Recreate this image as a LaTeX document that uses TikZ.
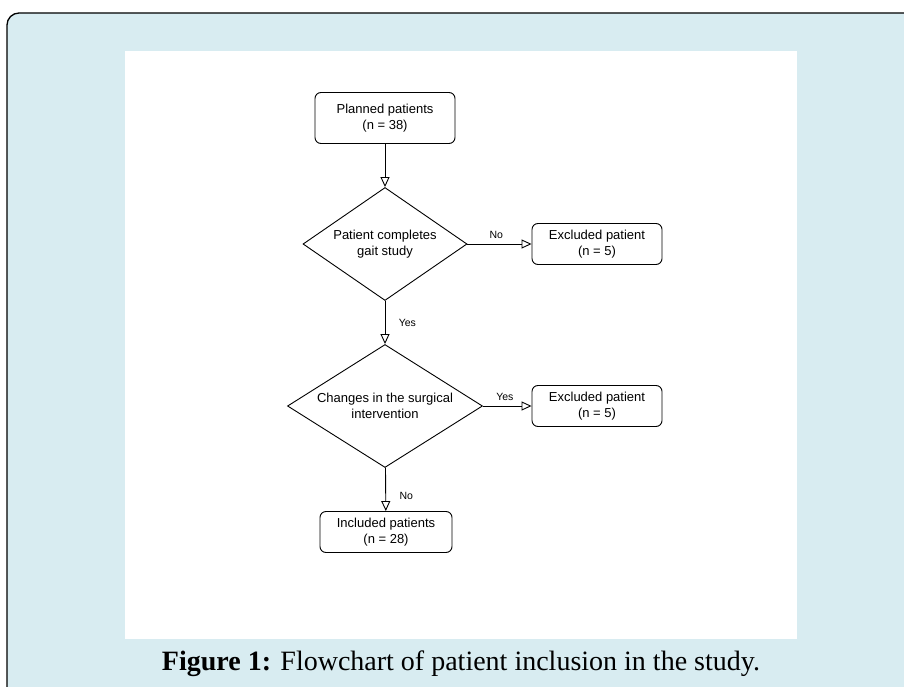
\documentclass[tikz,border=0pt]{standalone}
\usepackage{fontspec}
\setmainfont{Liberation Sans}
\newfontfamily\capfont{Liberation Serif}
\usetikzlibrary{arrows.meta,positioning,shapes.geometric}

\begin{document}
\begin{tikzpicture}[x=1pt,y=-1pt]
    % Define colors
    \definecolor{panelblue}{RGB}{216,236,241}

    % Define styles
    \tikzset{
        stepbox/.style={rectangle, rounded corners=6pt, draw, line width=0.9pt,
            minimum width=#1, minimum height=41pt, inner sep=0pt, align=center,
            font=\fontsize{13}{15.5}\selectfont},
        stepbox/.default=130pt,
        decision/.style={diamond, draw, line width=0.9pt, inner sep=0pt, align=center,
            font=\fontsize{13}{15.5}\selectfont},
        flow/.style={line width=0.9pt, -{Triangle[open, length=10pt, width=9pt]}},
        answer/.style={font=\fontsize{10.5}{12}\selectfont}
    }

    % Frame and panel
    \useasboundingbox (0,0) rectangle (904,687);
    \clip (0,0) rectangle (904,687);
    \draw[fill=panelblue, line width=1.3pt, rounded corners=12pt] (7,13) rectangle (940,720);
    \fill[white] (125,51) rectangle (797,639);

    % Draw nodes
    \node[stepbox=140pt, minimum height=51pt] (planned) at (385,118) {Planned patients\\(n = 38)};
    \node[decision, aspect=1.45, minimum width=164pt, minimum height=113pt] (gait) at (385,244) {Patient completes\\gait study};
    \node[stepbox] (excl1) at (597,244) {Excluded patient\\(n = 5)};
    \node[decision, aspect=1.59, minimum width=195pt, minimum height=123pt] (surg) at (385,406) {Changes in the surgical\\intervention};
    \node[stepbox] (excl2) at (597,406) {Excluded patient\\(n = 5)};
    \node[stepbox=132pt] (incl) at (386,532) {Included patients\\(n = 28)};

    % Draw arrows
    \draw[flow] (planned) -- (gait);
    \draw[flow] (gait) -- (excl1) node[answer, pos=0.45, above=2pt] {No};
    \draw[flow] (gait) -- (surg) node[answer, pos=0.5, right=10pt] {Yes};
    \draw[flow] (surg) -- (excl2) node[answer, pos=0.45, above=2pt] {Yes};
    \draw[flow] (surg) -- (incl) node[answer, pos=0.65, right=10pt] {No};

    % Add caption
    \node[font=\capfont\fontsize{28}{32}\selectfont] (caption) at (461,664)
        {\textbf{Figure 1:} Flowchart of patient inclusion in the study.};
\end{tikzpicture}
\end{document}
